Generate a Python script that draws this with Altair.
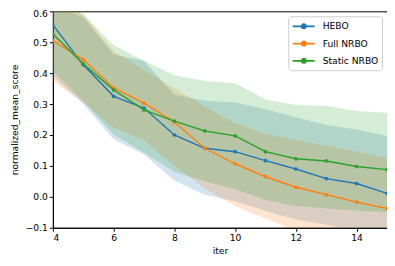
import altair as alt
import pandas as pd

iters = [4, 5, 6, 7, 8, 9, 10, 11, 12, 13, 14, 15]
series_names = ["HEBO", "Full NRBO", "Static NRBO"]
colors = ["#1f77b4", "#ff7f0e", "#2ca02c"]

hebo_mean = [0.556, 0.427, 0.325, 0.287, 0.200, 0.157, 0.146, 0.117, 0.090, 0.059, 0.043, 0.011]
full_mean = [0.505, 0.444, 0.352, 0.303, 0.242, 0.157, 0.107, 0.065, 0.031, 0.007, -0.017, -0.038]
static_mean = [0.527, 0.430, 0.346, 0.281, 0.245, 0.213, 0.197, 0.146, 0.123, 0.116, 0.098, 0.088]

hebo_upper = [0.62, 0.58, 0.46, 0.44, 0.33, 0.311, 0.305, 0.283, 0.257, 0.232, 0.218, 0.197]
full_upper = [0.63, 0.59, 0.47, 0.41, 0.35, 0.291, 0.238, 0.203, 0.184, 0.165, 0.147, 0.125]
static_upper = [0.64, 0.59, 0.49, 0.44, 0.393, 0.375, 0.367, 0.315, 0.297, 0.294, 0.278, 0.272]

hebo_lower = [0.39, 0.30, 0.186, 0.137, 0.053, 0.007, -0.014, -0.046, -0.073, -0.09, -0.11, -0.13]
full_lower = [0.375, 0.305, 0.224, 0.183, 0.10, 0.028, -0.03, -0.07, -0.11, -0.14, -0.16, -0.18]
static_lower = [0.405, 0.31, 0.202, 0.143, 0.08, 0.05, 0.025, -0.01, -0.03, -0.038, -0.045, -0.05]

y_ticks = [-0.1, 0.0, 0.1, 0.2, 0.3, 0.4, 0.5, 0.6]
x_ticks = [4, 6, 8, 10, 12, 14]

rows = []
for name, m, lo, hi in [
    ("HEBO", hebo_mean, hebo_lower, hebo_upper),
    ("Full NRBO", full_mean, full_lower, full_upper),
    ("Static NRBO", static_mean, static_lower, static_upper),
]:
    for i, x in enumerate(iters):
        rows.append({"iter": x, "series": name, "mean": m[i], "lower": lo[i], "upper": hi[i]})
df = pd.DataFrame(rows)

font = "DejaVu Sans"
xscale = alt.Scale(domain=[4, 15], nice=False, zero=False)
yscale = alt.Scale(domain=[-0.1, 0.6], nice=False, zero=False)
# line segment with a small dot, drawn from the symbol's left edge
line_path = "M-1,0L3,0M0.62,0A0.38,0.38 0 1,1 1.38,0A0.38,0.38 0 1,1 0.62,0"
cscale = alt.Scale(domain=series_names, range=colors)
color_enc = alt.Color(
    "series:N", scale=cscale, sort=series_names,
    legend=alt.Legend(title=None, orient="top-right", offset=5,
                      symbolType=line_path, symbolSize=121,
                      symbolStrokeWidth=1.8, symbolOpacity=1,
                      symbolFillColor="transparent",
                      labelFont=font, labelFontSize=9.2, labelColor="black",
                      strokeColor="#cccccc", fillColor="white",
                      cornerRadius=3, padding=3.5, rowPadding=4.3,
                      labelOffset=18),
)

xaxis = alt.Axis(values=x_ticks, title="iter", grid=False, format="d", labelOverlap=False)
yaxis = alt.Axis(values=y_ticks, title="normalized_mean_score",
                 grid=False, format=".1f", labelOverlap=False,
                 labelOffset={"condition": {"test": "datum.value > 0.55", "value": 2.5},
                              "value": 0})

base = alt.Chart(df)

bands = base.mark_area(opacity=0.2, clip=True).encode(
    x=alt.X("iter:Q", scale=xscale, axis=xaxis),
    y=alt.Y("lower:Q", scale=yscale, axis=yaxis),
    y2="upper:Q",
    color=color_enc,
    detail="series:N",
)

lines = base.mark_line(strokeWidth=1.4, clip=True).encode(
    x=alt.X("iter:Q", scale=xscale, axis=xaxis),
    y=alt.Y("mean:Q", scale=yscale, axis=yaxis),
    color=color_enc,
)

points = base.mark_circle(size=14, opacity=1, clip=True).encode(
    x=alt.X("iter:Q", scale=xscale, axis=xaxis),
    y=alt.Y("mean:Q", scale=yscale, axis=yaxis),
    color=color_enc,
)

chart = alt.layer(bands, lines, points).properties(
    width=335, height=217,
    autosize=alt.AutoSizeParams(type="none"),
    padding={"left": 45, "top": 3, "right": 0, "bottom": 30},
).configure_view(
    stroke="black", strokeWidth=1
).configure_axis(
    labelFont=font, titleFont=font, labelFontSize=9.2, titleFontSize=9.2,
    titleFontWeight="normal", labelColor="black", titleColor="black",
    domainColor="black", tickColor="black", tickSize=3.5, labelPadding=2,
    labelOverlap=False,
).configure_axisX(titlePadding=4).configure_axisY(titlePadding=6)

chart.save("out.html", embed_options={"renderer": "svg", "actions": False})
